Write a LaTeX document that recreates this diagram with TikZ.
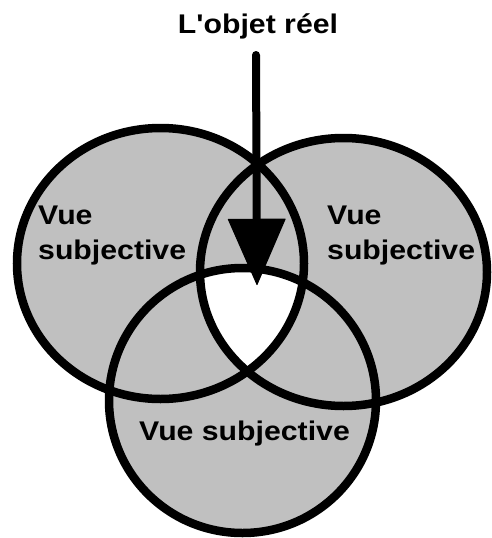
\documentclass[tikz,border=0pt]{standalone}
\usepackage{fontspec}
\newfontfamily\labfont[FakeStretch=1.12,Ligatures=TeXOff]{Liberation Sans}
\usetikzlibrary{arrows.meta}
\definecolor{venngray}{RGB}{192,192,192}
\begin{document}
\begin{tikzpicture}[x=1pt,y=-1pt,
  ring/.style={draw=black,line width=8.5pt},
  lab/.style={font=\labfont\bfseries\fontsize{27}{35}\selectfont,inner sep=0pt,align=left,text=black},
  bigarrow/.style={line width=8pt,line cap=round,-{Triangle[length=67pt,width=58pt,line width=1pt,round]}}]
\useasboundingbox (0,0) rectangle (492,538);
\def\ellA{(160.5,263.5) ellipse [x radius=143.5, y radius=135.5]}
\def\ellB{(343.5,272) ellipse [x radius=143.5, y radius=134]}
\def\ellC{(242.5,400.5) ellipse [x radius=133.5, y radius=132.5]}
% fills
\fill[venngray] \ellA;
\fill[venngray] \ellB;
\fill[venngray] \ellC;
\begin{scope}
  \clip \ellA;
  \clip \ellB;
  \fill[white] \ellC;
\end{scope}
% outlines
\draw[ring] \ellA;
\draw[ring] \ellB;
\draw[ring] \ellC;
% labels
\node[lab,anchor=base] (title) at (258,33) {L'objet réel};
\node[lab,anchor=base west] (leftlab) at (38,259) {Vue\\subjective};
\node[lab,anchor=base west] (rightlab) at (327,259) {Vue\\subjective};
\node[lab,anchor=base west] (bottomlab) at (139,440) {Vue subjective};
% arrow
\coordinate (src) at (256,55);
\coordinate (tip) at (257,285);
\draw[bigarrow] (src) -- (tip);
\end{tikzpicture}
\end{document}
